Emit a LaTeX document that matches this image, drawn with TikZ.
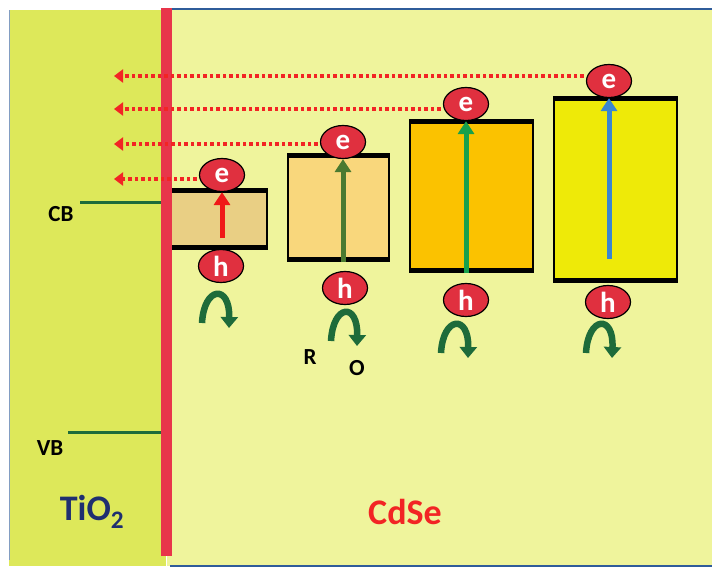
\documentclass[tikz,border=0pt]{standalone}
\usepackage{fontspec}
\setmainfont{Carlito}
\usetikzlibrary{shapes.geometric,arrows.meta}
\definecolor{tiobg}{HTML}{DDE85A}
\definecolor{cdsebg}{HTML}{EFF49C}
\definecolor{redbar}{HTML}{E8354A}
\definecolor{framebl}{HTML}{2F5C9A}
\definecolor{carrier}{HTML}{E0303F}
\definecolor{dotred}{HTML}{F22424}
\definecolor{bandgreen}{HTML}{1E6B3A}
\definecolor{boxa}{HTML}{E9CF84}
\definecolor{boxb}{HTML}{F9D77C}
\definecolor{boxc}{HTML}{FBC200}
\definecolor{boxd}{HTML}{EEEA08}
\definecolor{arra}{HTML}{F01818}
\definecolor{arrb}{HTML}{4A7A30}
\definecolor{arrc}{HTML}{18A04C}
\definecolor{arrd}{HTML}{3A86D0}
\definecolor{tiotext}{HTML}{1F2F70}
\tikzset{
  carrierball/.style={ellipse,draw=black,line width=1.2pt,fill=carrier,minimum width=45pt,minimum height=33pt,inner sep=0pt,text=white,font=\fontsize{29}{29}\selectfont\bfseries},
  transfer/.style={dotred,line width=4pt,dash pattern=on 3.5pt off 3pt,-{Triangle[length=9pt,width=13pt]}},
  excite/.style={line width=5pt,-{Triangle[length=13pt,width=16pt]}},
  holeturn/.style={bandgreen,line width=6.5pt,-{Triangle[length=11pt,width=17pt]}},
  bandedge/.style={black,line width=5pt},
  boxside/.style={black,line width=1.5pt},
  label/.style={font=\fontsize{23}{23}\selectfont\bfseries,text=black,inner sep=0pt},
}
\begin{document}
\begin{tikzpicture}[x=1pt,y=-1pt]
\useasboundingbox (0,0) rectangle (712,568);
% backgrounds
\fill[cdsebg] (167,9) rectangle (712,566);
\fill[tiobg] (9,10) rectangle (166,566);
\draw[framebl,line width=2pt] (170,9) -- (712,9);
\draw[framebl,line width=2pt] (170,566) -- (712,566);
\draw[framebl!60,line width=1pt] (9,10) -- (9,560);
% band lines TiO2
\draw[bandgreen,line width=3pt] (80,202) -- (162,202);
\draw[bandgreen,line width=3pt] (68,432) -- (162,432);
\node[label] (cb) at (61,214) {CB};
\node[label] (vb) at (50,448) {VB};
\node[font=\fontsize{36}{36}\selectfont\bfseries,text=tiotext] (tio) at (92,512) {TiO\textsubscript{2}};
\node[font=\fontsize{36}{36}\selectfont\bfseries,text=dotred] (cdse) at (405,512) {CdSe};
% boxes
\fill[boxa] (172,190) rectangle (267,248);
\draw[boxside] (267,188) -- (267,250);
\draw[bandedge] (172,190) -- (268,190);
\draw[bandedge] (172,247) -- (268,247);
\fill[boxb] (288,155) rectangle (389,260);
\draw[boxside] (288,153) -- (288,262) (389,153) -- (389,262);
\draw[bandedge] (287,155.5) -- (390,155.5);
\draw[bandedge] (287,259.5) -- (390,259.5);
\fill[boxc] (410,121) rectangle (533,271);
\draw[boxside] (410,119) -- (410,273) (533,119) -- (533,273);
\draw[bandedge] (409,121.5) -- (534,121.5);
\draw[bandedge] (409,270.5) -- (534,270.5);
\fill[boxd] (554,98) rectangle (677,281);
\draw[boxside] (554,96) -- (554,283) (677,96) -- (677,283);
\draw[bandedge] (553,98.5) -- (678,98.5);
\draw[bandedge] (553,280.5) -- (678,280.5);
% red interface bar
\fill[redbar] (161,8) rectangle (172,556);
% electrons and holes
\node[carrierball] (e1) at (222,175) {e};
\node[carrierball] (e2) at (343,142) {e};
\node[carrierball] (e3) at (466,104) {e};
\node[carrierball] (e4) at (609,81) {e};
\node[carrierball] (h1) at (221,266) {h};
\node[carrierball] (h2) at (345,288) {h};
\node[carrierball] (h3) at (466,300) {h};
\node[carrierball] (h4) at (608,302) {h};
% excitation arrows
\coordinate (s1) at (222,238);
\coordinate (s2) at (343,262);
\coordinate (s3) at (466,273);
\coordinate (s4) at (609,259);
\draw[excite,arra] (s1) -- (e1.south);
\draw[excite,arrb] (s2) -- (e2.south);
\draw[excite,arrc] (s3) -- (e3.south);
\draw[excite,arrd] (s4) -- (e4.south);
% transfer to TiO2
\coordinate (t1) at (114,179);
\coordinate (t2) at (114,144);
\coordinate (t3) at (114,109);
\coordinate (t4) at (114,76);
\draw[transfer] (e1.west |- t1) ++(-2,0) -- (t1);
\draw[transfer] (e2.west |- t2) ++(-2,0) -- (t2);
\draw[transfer] (e3.west |- t3) ++(-2,0) -- (t3);
\draw[transfer] (e4.west |- t4) ++(-2,0) -- (t4);
% hole scavenging arrows
\draw[holeturn] (202,323) .. controls (204,286) and (230,284) .. (229,328);
\draw[holeturn] (331,341) .. controls (333,304) and (358,302) .. (357,346);
\draw[holeturn] (441,353) .. controls (443,316) and (469,314) .. (468,358);
\draw[holeturn] (586,353) .. controls (588,316) and (614,314) .. (612,358);
\node[label] (r) at (310,357) {R};
\node[label] (o) at (357,368) {O};
\end{tikzpicture}
\end{document}
